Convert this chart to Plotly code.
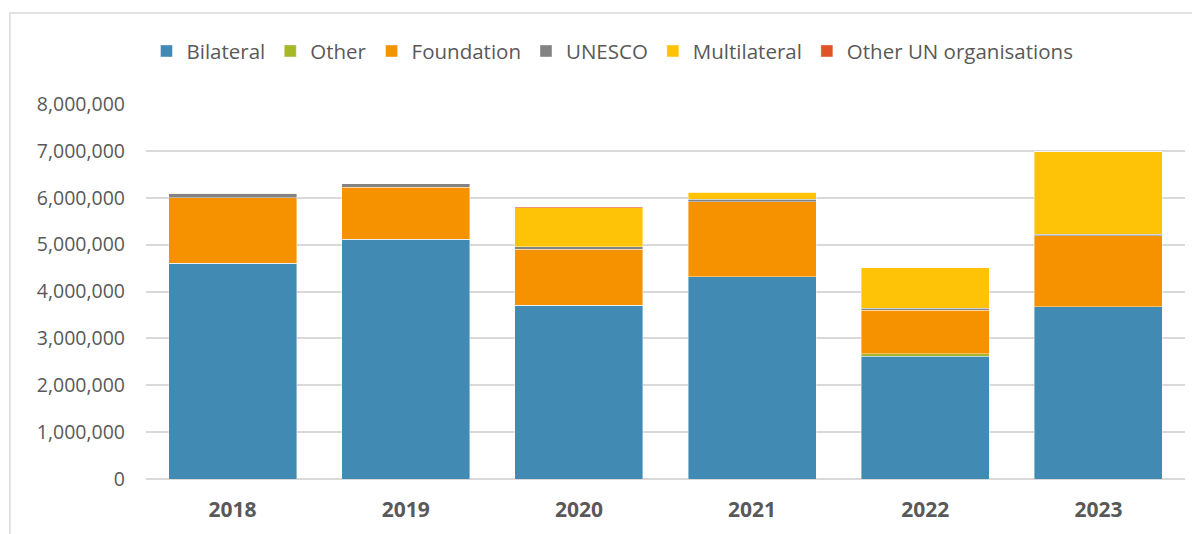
import plotly.graph_objects as go

years = ["2018", "2019", "2020", "2021", "2022", "2023"]
bilateral = [4600000, 5110000, 3710000, 4320000, 2620000, 3670000]
other = [0, 0, 0, 0, 50000, 0]
foundation = [1400000, 1110000, 1190000, 1600000, 930000, 1520000]
unesco = [100000, 80000, 50000, 50000, 40000, 30000]
multilateral = [0, 0, 840000, 150000, 870000, 1760000]
other_un = [0, 0, 20000, 0, 0, 0]

series = [
    ("Bilateral", bilateral, "#418AB3"),
    ("Other", other, "#A6B727"),
    ("Foundation", foundation, "#F69200"),
    ("UNESCO", unesco, "#838383"),
    ("Multilateral", multilateral, "#FEC306"),
    ("Other UN organisations", other_un, "#DF5327"),
]

fig = go.Figure()
for name, vals, color in series:
    fig.add_trace(go.Bar(
        x=years, y=vals, name=name,
        marker=dict(color=color, line=dict(color="white", width=0.4)),
    ))

fig.update_layout(
    width=1200, height=534,
    barmode="stack", bargap=0.26,
    paper_bgcolor="white", plot_bgcolor="white",
    margin=dict(l=138, r=23, t=96, b=63),
    font=dict(family="Open Sans", color="#595959", size=18),
    legend=dict(orientation="h", x=0.449, xanchor="center", y=1.141, yanchor="middle",
                traceorder="normal", font=dict(size=20.5, color="#595959"),
                itemwidth=30),
    xaxis=dict(tickfont=dict(size=21, color="#595959", family="Open Sans"),
               ticks="", showline=False, ticklabelstandoff=16),
    yaxis=dict(range=[0, 8000000], dtick=1000000, tickformat=",d",
               gridcolor="#D9D9D9", gridwidth=1.5, zeroline=True,
               zerolinecolor="#D9D9D9", zerolinewidth=1.5,
               tickfont=dict(size=19.5, color="#595959"), ticklen=0, ticks="",
               ticklabelstandoff=20),
    shapes=[dict(type="rect", xref="paper", yref="paper",
                 x0=-0.131, x1=1.05, y0=-0.3, y1=1.2427,
                 line=dict(color="#D9D9D9", width=1.5), fillcolor="rgba(0,0,0,0)",
                 layer="below")],
)
fig.update_xaxes(tickprefix="<b>", ticksuffix="</b>")

fig.write_html("out.html")
